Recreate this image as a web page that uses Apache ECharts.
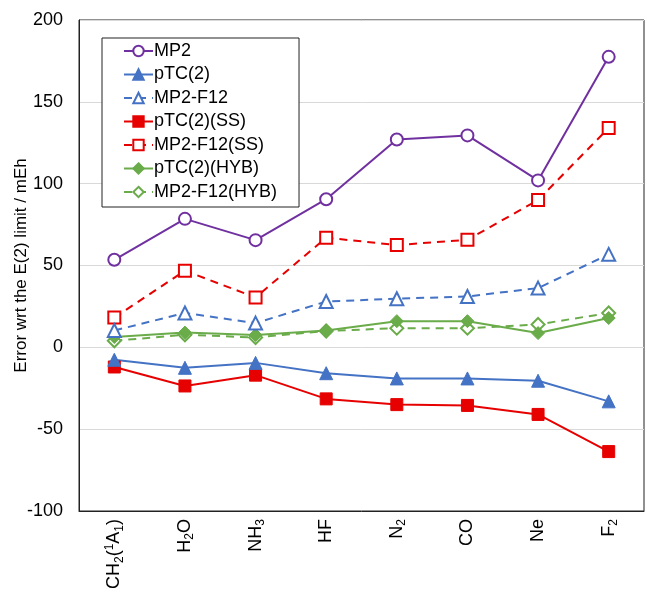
<!DOCTYPE html>
<html>
<head>
<meta charset="utf-8">
<script src="https://cdn.jsdelivr.net/npm/echarts@6/dist/echarts.min.js"></script>
<style>
html,body{margin:0;padding:0;background:#fff;}
#main{width:647px;height:595px;}
</style>
</head>
<body>
<div id="main"></div>
<script>
// Categories (plain) and rich-text labels with sub/superscripts
var categories = ['CH2(1A1)', 'H2O', 'NH3', 'HF', 'N2', 'CO', 'Ne', 'F2'];
var categoryLabels = {
  'CH2(1A1)': '{n|CH}{s|2}{n|(}{p|1}{n|A}{s|1}{n|)}',
  'H2O': '{n|H}{s|2}{n|O}',
  'NH3': '{n|NH}{s|3}',
  'HF': '{n|HF}',
  'N2': '{n|N}{s|2}',
  'CO': '{n|CO}',
  'Ne': '{n|Ne}',
  'F2': '{n|F}{s|2}'
};

var yTicks = { min: -100, max: 200, interval: 50 };

var mp2          = [53.5, 78.5, 65.5, 90.5, 127, 129.5, 102, 177.5];
var ptc2         = [-7.6, -12.5, -9.5, -15.8, -19, -19, -20.4, -33];
var mp2f12       = [10.3, 21, 14.8, 28, 29.7, 31.1, 36.2, 56.8];
var ptc2ss       = [-12, -23.6, -17, -31.5, -35, -35.5, -41, -63.7];
var mp2f12ss     = [18.2, 46.8, 30.5, 67, 62.5, 65.7, 90, 134];
var ptc2hyb      = [6.3, 9, 7.5, 10.3, 16, 16, 8.7, 17.9];
var mp2f12hyb    = [4, 7.7, 6, 10, 11.7, 11.7, 14, 21];

var purple = '#7030a0', blue = '#4472c4', red = '#e60000', green = '#6aab4a';

function mk(name, data, color, symbol, size, filled, dashed) {
  return {
    name: name,
    type: 'line',
    data: data,
    symbol: symbol,
    symbolSize: size,
    showAllSymbol: true,
    color: color,
    lineStyle: { color: color, width: 2, type: dashed ? [8, 6] : 'solid' },
    itemStyle: filled ? { color: color, borderColor: color, borderWidth: 1 }
                      : { color: '#ffffff', borderColor: color, borderWidth: 2 },
    emphasis: { disabled: true },
    animation: false
  };
}

var chart = echarts.init(document.getElementById('main'), null, { renderer: 'canvas' });
var font = 'Liberation Sans, Arial, Helvetica, sans-serif';
chart.setOption({
  backgroundColor: '#ffffff',
  animation: false,
  textStyle: { fontFamily: font },
  grid: {
    left: 79, right: 3, top: 20, bottom: 84,
    containLabel: false,
    outerBoundsMode: 'none',
    show: true, borderColor: '#222', borderWidth: 1, backgroundColor: 'transparent'
  },
  legend: {
    orient: 'vertical',
    left: 102, top: 38,
    padding: [4, 22, 6, 21],
    itemGap: 5.5,
    itemWidth: 29,
    itemHeight: 13,
    borderColor: '#222',
    borderWidth: 1,
    backgroundColor: '#fff',
    textStyle: { fontSize: 18, color: '#000', fontFamily: font, lineHeight: 18, padding: [0, 0, 0, -4] },
    data: ['MP2', 'pTC(2)', 'MP2-F12', 'pTC(2)(SS)', 'MP2-F12(SS)', 'pTC(2)(HYB)', 'MP2-F12(HYB)']
  },
  xAxis: {
    type: 'category',
    data: categories,
    boundaryGap: true,
    axisLine: { show: true, onZero: false, lineStyle: { color: '#222', width: 1 } },
    axisTick: { show: false },
    axisLabel: {
      rotate: 90,
      margin: 8,
      color: '#000',
      fontFamily: font,
      formatter: function (v) { return categoryLabels[v]; },
      rich: {
        n: { fontSize: 18, fontFamily: font, color: '#000', lineHeight: 22 },
        s: { fontSize: 12, fontFamily: font, color: '#000', lineHeight: 8, verticalAlign: 'bottom' },
        p: { fontSize: 12, fontFamily: font, color: '#000', lineHeight: 10, verticalAlign: 'top' }
      }
    },
    splitLine: { show: false }
  },
  yAxis: {
    type: 'value',
    min: yTicks.min, max: yTicks.max, interval: yTicks.interval,
    name: 'Error wrt the E(2) limit / mEh',
    nameLocation: 'middle',
    nameGap: 49,
    nameMoveOverlap: false,
    nameTextStyle: { fontSize: 17, color: '#000', fontFamily: font },
    axisLine: { show: true, lineStyle: { color: '#222' } },
    axisTick: { show: false },
    axisLabel: { fontSize: 18, color: '#000', margin: 16, fontFamily: font },
    splitLine: { show: true, lineStyle: { color: '#d9d9d9', width: 1 } }
  },
  series: [
    mk('MP2-F12(HYB)', mp2f12hyb, green, 'diamond', 13, false, true),
    mk('pTC(2)(HYB)', ptc2hyb, green, 'diamond', 13, true, false),
    mk('MP2-F12(SS)', mp2f12ss, red, 'rect', 12, false, true),
    mk('pTC(2)(SS)', ptc2ss, red, 'rect', 12, true, false),
    mk('MP2-F12', mp2f12, blue, 'triangle', 13, false, true),
    mk('pTC(2)', ptc2, blue, 'triangle', 13, true, false),
    mk('MP2', mp2, purple, 'circle', 12, false, false)
  ]
});
</script>
</body>
</html>
